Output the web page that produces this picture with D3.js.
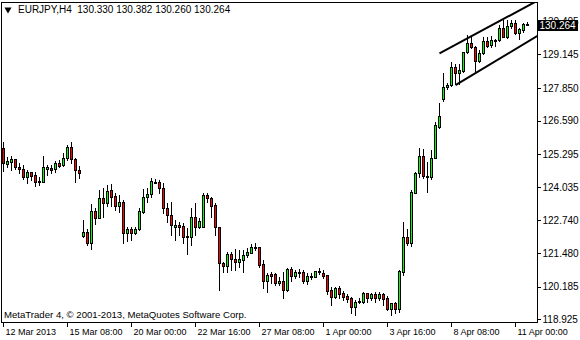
<!DOCTYPE html>
<html><head><meta charset="utf-8">
<script src="https://cdn.jsdelivr.net/npm/d3@7"></script>
<style>
body{margin:0;background:#fff}
svg{display:block}
text{font-family:"Liberation Sans",Arial,sans-serif;fill:#000}
</style></head>
<body><svg id="c" width="580" height="340"></svg>
<script>
// ---- data (EURJPY H4, bar 0 = 12 Mar 2013 16:00) ----
const symbol = "EURJPY", timeframe = "H4";
const open = [
125.520,124.926,125.003,125.096,124.787,124.710,124.425,124.594,124.490,124.209,
124.232,124.733,124.749,124.710,124.941,124.864,125.134,125.582,125.096,124.683,
122.138,122.292,121.856,123.102,122.843,123.592,123.422,123.900,123.680,123.295,
123.437,122.242,122.396,122.265,122.396,123.052,123.653,123.746,124.232,124.209,
123.977,123.206,122.948,122.496,122.562,122.523,122.088,122.111,122.859,122.496,
122.473,123.719,123.592,123.333,122.496,121.085,120.992,121.432,121.251,121.147,
121.212,121.405,121.494,121.663,121.702,121.046,120.414,120.672,120.661,120.314,
120.402,120.055,120.853,120.614,120.761,120.761,120.402,120.545,120.568,120.799,
120.722,120.634,120.055,119.797,120.121,119.928,119.824,119.735,119.411,119.581,
119.581,119.928,119.758,119.889,119.758,119.889,119.758,119.311,119.542,119.311,
120.761,122.111,121.856,123.808,124.579,125.211,124.452,124.425,125.134,126.353,
127.409,127.872,127.961,128.667,128.412,128.512,129.222,129.592,129.438,128.898,
129.184,129.658,129.504,129.658,129.696,130.148,129.800,130.236,130.340,129.955,
130.082,130.330];
const high = [
125.774,125.196,125.223,125.119,124.941,124.876,124.683,124.617,124.594,124.425,
125.223,124.876,124.876,125.042,125.069,125.327,125.636,125.774,125.134,124.837,
122.755,122.396,123.372,123.206,123.912,123.977,124.105,124.143,123.784,123.719,
123.526,122.496,122.473,122.496,123.206,123.939,123.977,124.363,124.324,124.297,
124.170,123.422,123.460,122.755,122.689,122.627,122.435,123.206,123.422,122.820,
123.808,123.784,123.653,123.399,122.496,121.147,121.532,121.532,121.625,121.598,
121.598,121.663,121.829,121.856,121.725,121.212,120.722,120.761,120.699,120.568,
120.761,120.892,120.942,120.826,120.853,120.826,120.699,120.699,120.799,120.892,
120.826,120.634,120.182,120.182,120.209,120.028,119.901,119.797,119.669,119.735,
119.990,119.951,119.951,119.990,119.990,119.951,119.824,119.566,119.604,120.826,
122.689,122.396,123.912,124.617,125.520,125.481,124.991,125.454,126.546,127.255,
128.412,128.050,128.860,128.771,128.771,129.245,129.889,129.851,129.465,129.311,
129.824,129.824,129.851,129.723,130.275,130.468,130.468,130.468,130.468,130.148,
130.340,130.382];
const low = [
124.656,124.787,124.683,124.710,124.579,124.324,124.170,124.297,124.066,124.105,
124.232,124.490,124.556,124.617,124.810,124.837,125.069,124.941,124.209,124.386,
122.111,121.779,121.625,122.589,122.820,122.882,123.295,123.295,123.140,123.075,
121.856,121.956,121.983,122.215,122.369,123.013,123.460,123.653,124.170,123.808,
123.013,122.689,122.176,121.983,122.176,121.856,121.444,121.791,122.176,122.435,
122.473,123.460,122.882,122.176,120.055,120.761,120.761,120.826,120.826,120.954,
120.761,121.339,121.471,121.598,120.954,120.121,119.990,120.314,120.248,120.248,
119.735,120.028,120.421,120.506,120.545,120.337,120.287,120.468,120.568,120.661,
120.506,119.901,119.477,119.735,119.735,119.669,119.604,119.180,119.091,119.542,
119.542,119.604,119.669,119.604,119.669,119.477,119.284,119.091,119.180,119.218,
120.634,121.791,121.752,123.784,124.425,124.386,123.846,124.336,125.134,126.291,
127.356,127.795,127.922,127.999,127.999,128.474,129.207,129.376,128.412,128.860,
129.157,129.438,129.438,129.477,129.669,129.800,129.762,130.148,129.916,129.723,
130.016,130.260];
const close = [
124.965,125.030,125.096,124.787,124.710,124.425,124.606,124.463,124.209,124.259,
124.787,124.787,124.683,124.941,124.849,125.146,125.582,125.096,124.683,124.556,
122.292,121.856,123.102,122.843,123.592,123.422,123.873,123.653,123.306,123.437,
122.242,122.396,122.265,122.396,123.102,123.653,123.746,124.259,124.193,123.977,
123.206,122.948,122.562,122.562,122.496,122.088,122.138,122.859,122.496,122.716,
123.719,123.592,123.306,122.496,121.085,120.992,121.432,121.239,121.147,121.251,
121.405,121.532,121.702,121.702,121.019,120.414,120.634,120.595,120.314,120.402,
120.055,120.865,120.614,120.757,120.699,120.402,120.595,120.595,120.788,120.738,
120.607,120.028,119.797,120.121,119.901,119.797,119.708,119.411,119.581,119.631,
119.951,119.758,119.889,119.758,119.901,119.708,119.311,119.542,119.311,120.788,
122.111,121.856,123.846,124.579,125.211,124.452,124.413,125.134,126.418,126.765,
127.872,127.961,128.667,128.412,128.539,129.222,129.592,129.438,128.898,129.207,
129.658,129.477,129.696,129.696,130.148,129.800,130.236,130.340,129.955,130.109,
130.313,130.264];

const xTickIndex = [0,16,32,48,64,80,96,112,128];
const xTickLabels = ["12 Mar 2013","15 Mar 08:00","20 Mar 00:00","22 Mar 16:00","27 Mar 08:00","1 Apr 00:00","3 Apr 16:00","8 Apr 08:00","11 Apr 00:00"];
const yTickValues = [130.405,129.145,127.850,126.590,125.295,124.035,122.740,121.480,120.185,118.925];
// trend channel lines: [barIndex, price] anchor pairs (rays to the right)
const channelUpper = [[109,129.18],[129,130.84]];
const channelLower = [[113,127.96],[129,129.44]];
const copyright = "MetaTrader 4, \u00A9 2001-2013, MetaQuotes Software Corp.";

// ---- layout ----
const L = 1, T = 2, R = 537, B = 322;
const svg = d3.select("#c");
const x = d3.scaleLinear().domain([0,128]).range([3,515]);
const y = d3.scaleLinear().domain([118.821,131.162]).range([B,T]);
const bars = open.map((o,i)=>({i,o,c:close[i],h:Math.max(high[i],o,close[i]),l:Math.min(low[i],o,close[i])}));

svg.append("defs").append("clipPath").attr("id","plot")
  .append("rect").attr("x",L+1).attr("y",T+1).attr("width",R-L-1).attr("height",B-T-1);

const plot = svg.append("g").attr("clip-path","url(#plot)");
const g = plot.selectAll("g.bar").data(bars).join("g").attr("class","bar")
  .attr("shape-rendering","crispEdges");
g.append("line")
  .attr("x1",d=>x(d.i)+0.5).attr("x2",d=>x(d.i)+0.5)
  .attr("y1",d=>Math.round(y(d.h))).attr("y2",d=>Math.round(y(d.l))+1)
  .attr("stroke","#000").attr("stroke-width",1);
g.append("rect")
  .attr("x",d=>x(d.i)-0.5).attr("width",2)
  .attr("y",d=>Math.round(y(Math.max(d.o,d.c)))+0.5)
  .attr("height",d=>Math.max(0,Math.round(y(Math.min(d.o,d.c)))-Math.round(y(Math.max(d.o,d.c)))))
  .attr("fill",d=>d.c>=d.o?"#00ff00":"#ff0000")
  .attr("stroke","#000").attr("stroke-width",1);

// channel rays
function ray(pts){
  const [[i1,p1],[i2,p2]] = pts, s=(p2-p1)/(i2-i1), iEnd=140;
  return [[i1,p1],[iEnd,p1+s*(iEnd-i1)]];
}
const lineGen = d3.line().x(d=>x(d[0])+0.5).y(d=>y(d[1]));
[channelUpper,channelLower].forEach(c=>{
  plot.append("path").attr("d",lineGen(ray(c))).attr("stroke","#000").attr("stroke-width",2).attr("fill","none");
});

// frame
svg.append("rect").attr("x",L+0.5).attr("y",T+0.5).attr("width",R-L).attr("height",B-T)
  .attr("fill","none").attr("stroke","#000").attr("shape-rendering","crispEdges");

// y axis
const ya = svg.append("g").attr("transform",`translate(${R+0.5},0)`)
  .call(d3.axisRight(y).tickValues(yTickValues).tickSize(3).tickPadding(2).tickFormat(d3.format(".3f")));
ya.select(".domain").remove();
ya.selectAll("text").style("font-size","10px").style("font-family","Liberation Sans, Arial, sans-serif");
ya.attr("shape-rendering","crispEdges");

// x axis
const xa = svg.append("g").attr("transform",`translate(0,${B+0.5})`)
  .call(d3.axisBottom(x).tickValues(xTickIndex).tickSize(4).tickFormat((d,i)=>xTickLabels[i]));
xa.select(".domain").remove();
xa.selectAll("text").attr("text-anchor","start").attr("x",2).attr("y",6).attr("dy","0.71em")
  .style("font-size","9px").style("font-family","Liberation Sans, Arial, sans-serif");
xa.attr("shape-rendering","crispEdges");

// current price label
const last = bars[bars.length-1];
const yl = Math.round(y(last.c));
svg.append("rect").attr("x",R+1).attr("y",yl-5).attr("width",40).attr("height",11).attr("fill","#000");
svg.append("text").attr("x",R+2.5).attr("y",yl).attr("dy","0.35em").style("font-size","10px")
  .style("fill","#fff").text(last.c.toFixed(3));

// title
const fmt = d3.format(".3f");
svg.append("path").attr("d",d3.symbol(d3.symbolTriangle,22)()).attr("transform","translate(8,9.5) rotate(180)").attr("fill","#000");
svg.append("text").attr("x",18).attr("y",13).style("font-size","10px").style("white-space","pre")
  .text(`${symbol},${timeframe}  ${fmt(last.o)} ${fmt(last.h)} ${fmt(last.l)} ${fmt(last.c)}`);

// copyright
svg.append("text").attr("x",4).attr("y",318).style("font-size","9.6px").text(copyright);
</script></body></html>
